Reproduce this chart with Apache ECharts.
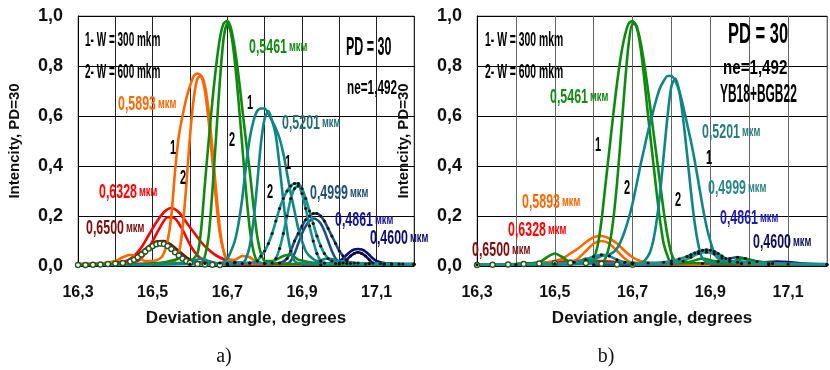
<!DOCTYPE html>
<html><head><meta charset="utf-8">
<script src="https://cdn.jsdelivr.net/npm/echarts@6/dist/echarts.min.js"></script>
<style>html,body{margin:0;padding:0;background:#fff}#c{width:830px;height:370px}</style>
</head><body><div id="c"></div>
<script>
// ---------- tick labels ----------
const xTickLabels = ['16,3', '16,5', '16,7', '16,9', '17,1'];
const yTickLabels = ['0,0', '0,2', '0,4', '0,6', '0,8', '1,0'];
const waveLabels = ['0,6500', '0,6328', '0,5893', '0,5461', '0,5201', '0,4999', '0,4861', '0,4600'];

// ---------- panel a) data: [angle, intensity] ----------
const a6500_1 = [[16.30,0.006],[16.34,0.008],[16.38,0.01],[16.41,0.015],[16.43,0.02],[16.45,0.035],[16.47,0.055],[16.49,0.08],[16.51,0.098],[16.53,0.1],[16.55,0.085],[16.57,0.06],[16.59,0.035],[16.61,0.02],[16.64,0.012],[16.70,0.008],[16.80,0.006],[17.20,0.005]];
const a6500_2 = [[16.30,0.004],[16.32,0.004],[16.34,0.005],[16.36,0.006],[16.38,0.008],[16.40,0.01],[16.42,0.012],[16.44,0.018],[16.45,0.025],[16.46,0.035],[16.47,0.046],[16.48,0.058],[16.49,0.07],[16.50,0.08],[16.51,0.087],[16.52,0.09],[16.53,0.088],[16.54,0.08],[16.55,0.068],[16.56,0.055],[16.57,0.042],[16.58,0.03],[16.59,0.02],[16.60,0.013],[16.62,0.008],[16.64,0.006],[16.66,0.005],[16.68,0.004]];
const a6328_1 = [[16.30,0.008],[16.36,0.01],[16.40,0.013],[16.43,0.02],[16.45,0.04],[16.47,0.075],[16.49,0.125],[16.51,0.175],[16.53,0.215],[16.55,0.232],[16.57,0.215],[16.59,0.175],[16.61,0.135],[16.63,0.095],[16.65,0.065],[16.67,0.042],[16.70,0.022],[16.75,0.012],[16.85,0.008],[17.20,0.006]];
const a6328_2 = [[16.40,0.006],[16.46,0.02],[16.48,0.05],[16.50,0.1],[16.52,0.155],[16.54,0.195],[16.56,0.19],[16.58,0.145],[16.60,0.085],[16.62,0.042],[16.64,0.02],[16.68,0.008],[16.80,0.005]];
const a5893_1 = [[16.30,0.008],[16.36,0.01],[16.40,0.02],[16.42,0.035],[16.44,0.045],[16.46,0.035],[16.48,0.02],[16.50,0.02],[16.52,0.03],[16.53,0.05],[16.54,0.1],[16.55,0.2],[16.56,0.38],[16.57,0.52],[16.58,0.6],[16.59,0.67],[16.60,0.72],[16.61,0.76],[16.62,0.77],[16.63,0.76],[16.64,0.70],[16.65,0.58],[16.66,0.42],[16.67,0.26],[16.68,0.13],[16.69,0.06],[16.70,0.03],[16.72,0.025],[16.74,0.04],[16.76,0.035],[16.78,0.015],[16.85,0.008],[17.20,0.006]];
const a5893_2 = [[16.40,0.006],[16.50,0.01],[16.54,0.015],[16.56,0.02],[16.57,0.05],[16.58,0.15],[16.59,0.32],[16.60,0.52],[16.61,0.67],[16.62,0.75],[16.63,0.76],[16.64,0.72],[16.65,0.62],[16.66,0.47],[16.67,0.3],[16.68,0.15],[16.69,0.06],[16.70,0.02],[16.75,0.01],[16.90,0.006]];
const a5461_1 = [[16.30,0.005],[16.45,0.008],[16.52,0.012],[16.56,0.025],[16.58,0.035],[16.60,0.02],[16.62,0.05],[16.63,0.15],[16.64,0.33],[16.65,0.5],[16.66,0.66],[16.67,0.8],[16.68,0.91],[16.69,0.97],[16.70,0.98],[16.71,0.95],[16.72,0.87],[16.73,0.76],[16.74,0.63],[16.75,0.5],[16.76,0.38],[16.77,0.24],[16.78,0.12],[16.79,0.05],[16.80,0.02],[16.82,0.02],[16.85,0.04],[16.87,0.045],[16.89,0.025],[16.95,0.01],[17.20,0.006]];
const a5461_2 = [[16.40,0.005],[16.55,0.01],[16.60,0.015],[16.63,0.01],[16.64,0.04],[16.65,0.12],[16.66,0.3],[16.67,0.52],[16.68,0.74],[16.69,0.91],[16.70,0.97],[16.71,0.93],[16.72,0.82],[16.73,0.66],[16.74,0.48],[16.75,0.3],[16.76,0.15],[16.77,0.06],[16.78,0.02],[16.80,0.01],[16.90,0.008],[17.10,0.005]];
const a5201_1 = [[16.40,0.005],[16.55,0.008],[16.60,0.015],[16.63,0.03],[16.65,0.02],[16.68,0.01],[16.70,0.03],[16.71,0.06],[16.72,0.1],[16.73,0.17],[16.74,0.27],[16.75,0.4],[16.76,0.51],[16.77,0.58],[16.78,0.62],[16.79,0.63],[16.80,0.63],[16.81,0.61],[16.82,0.58],[16.83,0.55],[16.84,0.51],[16.85,0.45],[16.86,0.37],[16.87,0.29],[16.88,0.22],[16.89,0.15],[16.90,0.1],[16.91,0.06],[16.92,0.04],[16.94,0.02],[16.97,0.03],[17.00,0.02],[17.05,0.01],[17.20,0.008]];
const a5201_2 = [[16.50,0.005],[16.65,0.01],[16.72,0.008],[16.74,0.01],[16.75,0.03],[16.76,0.08],[16.77,0.18],[16.78,0.33],[16.79,0.49],[16.80,0.59],[16.81,0.62],[16.82,0.58],[16.83,0.52],[16.84,0.4],[16.85,0.26],[16.86,0.14],[16.87,0.06],[16.88,0.02],[16.90,0.01],[17.00,0.008],[17.20,0.006]];
const a4999_1 = [[16.70,0.01],[16.72,0.012],[16.74,0.01],[16.76,0.012],[16.78,0.02],[16.79,0.04],[16.80,0.06],[16.81,0.09],[16.82,0.13],[16.83,0.18],[16.84,0.23],[16.85,0.27],[16.86,0.30],[16.87,0.32],[16.88,0.33],[16.89,0.33],[16.90,0.31],[16.91,0.27],[16.92,0.22],[16.93,0.17],[16.94,0.12],[16.95,0.08],[16.96,0.05],[16.97,0.03],[16.98,0.02],[17.00,0.012],[17.02,0.01],[17.05,0.012],[17.08,0.01],[17.11,0.01],[17.14,0.008],[17.17,0.008],[17.20,0.008]];
const a4999_2 = [[16.60,0.008],[16.64,0.01],[16.68,0.012],[16.72,0.015],[16.76,0.012],[16.80,0.01],[16.82,0.012],[16.83,0.03],[16.84,0.07],[16.85,0.13],[16.86,0.2],[16.87,0.27],[16.88,0.31],[16.89,0.32],[16.90,0.29],[16.91,0.23],[16.92,0.16],[16.93,0.1],[16.94,0.05],[16.95,0.02],[16.96,0.012],[16.99,0.01],[17.03,0.01],[17.07,0.008],[17.12,0.008],[17.16,0.008],[17.20,0.008]];
const a4861_1 = [[16.70,0.006],[16.80,0.01],[16.84,0.012],[16.86,0.03],[16.87,0.06],[16.88,0.1],[16.89,0.13],[16.90,0.16],[16.91,0.185],[16.92,0.2],[16.93,0.21],[16.94,0.21],[16.95,0.2],[16.96,0.18],[16.97,0.15],[16.98,0.12],[16.99,0.09],[17.00,0.06],[17.01,0.04],[17.02,0.02],[17.04,0.012],[17.08,0.01],[17.14,0.008],[17.20,0.006]];
const a4861_2 = [[16.80,0.006],[16.86,0.01],[16.87,0.02],[16.88,0.05],[16.89,0.09],[16.90,0.13],[16.91,0.16],[16.92,0.18],[16.93,0.19],[16.94,0.185],[16.95,0.17],[16.96,0.14],[16.97,0.1],[16.98,0.06],[16.99,0.03],[17.00,0.015],[17.03,0.01],[17.10,0.006]];
const a4600_1 = [[16.85,0.005],[16.95,0.008],[16.98,0.012],[17.00,0.02],[17.01,0.03],[17.02,0.045],[17.03,0.058],[17.04,0.066],[17.05,0.068],[17.06,0.066],[17.07,0.058],[17.08,0.045],[17.09,0.03],[17.10,0.02],[17.12,0.012],[17.16,0.008],[17.20,0.006]];
const a4600_2 = [[16.95,0.005],[17.00,0.008],[17.01,0.012],[17.02,0.025],[17.03,0.04],[17.04,0.05],[17.05,0.055],[17.06,0.05],[17.07,0.04],[17.08,0.025],[17.09,0.012],[17.12,0.008],[17.20,0.006]];

// ---------- panel b) data ----------
const b6500_1 = [[16.30,0.006],[16.40,0.008],[16.50,0.012],[16.56,0.015],[16.62,0.012],[16.70,0.008],[16.80,0.006],[17.20,0.005]];
const b6500_2 = [[16.30,0.004],[16.34,0.005],[16.38,0.006],[16.42,0.008],[16.46,0.01],[16.50,0.012],[16.54,0.013],[16.58,0.012],[16.62,0.009],[16.66,0.006],[16.70,0.005]];
const b6328_1 = [[16.30,0.006],[16.40,0.008],[16.46,0.012],[16.50,0.016],[16.54,0.02],[16.58,0.022],[16.62,0.02],[16.66,0.016],[16.70,0.012],[16.78,0.008],[16.90,0.006],[17.20,0.005]];
const b6328_2 = [[16.42,0.006],[16.50,0.01],[16.56,0.014],[16.62,0.012],[16.70,0.008],[16.80,0.005]];
const b5893_1 = [[16.30,0.006],[16.40,0.008],[16.46,0.012],[16.48,0.015],[16.50,0.02],[16.52,0.03],[16.54,0.05],[16.56,0.07],[16.58,0.095],[16.60,0.115],[16.62,0.12],[16.64,0.11],[16.66,0.09],[16.68,0.06],[16.70,0.035],[16.72,0.02],[16.75,0.012],[16.80,0.012],[16.85,0.008],[17.20,0.006]];
const b5893_2 = [[16.40,0.005],[16.50,0.008],[16.54,0.012],[16.56,0.03],[16.58,0.06],[16.60,0.09],[16.62,0.1],[16.64,0.09],[16.66,0.06],[16.68,0.03],[16.70,0.012],[16.75,0.008],[16.90,0.005]];
const b5461_1 = [[16.30,0.005],[16.40,0.008],[16.46,0.015],[16.48,0.035],[16.50,0.05],[16.52,0.035],[16.54,0.015],[16.56,0.01],[16.58,0.02],[16.59,0.015],[16.60,0.03],[16.61,0.08],[16.62,0.18],[16.63,0.32],[16.64,0.46],[16.65,0.60],[16.66,0.73],[16.67,0.84],[16.68,0.92],[16.69,0.97],[16.70,0.98],[16.71,0.96],[16.72,0.90],[16.73,0.81],[16.74,0.70],[16.75,0.58],[16.76,0.46],[16.77,0.34],[16.78,0.22],[16.79,0.12],[16.80,0.05],[16.81,0.02],[16.84,0.015],[16.88,0.03],[16.91,0.02],[16.95,0.015],[16.98,0.03],[17.01,0.02],[17.08,0.01],[17.20,0.006]];
const b5461_2 = [[16.40,0.005],[16.50,0.01],[16.56,0.015],[16.58,0.03],[16.60,0.02],[16.62,0.01],[16.63,0.03],[16.64,0.08],[16.65,0.18],[16.66,0.33],[16.67,0.52],[16.68,0.72],[16.69,0.89],[16.70,0.97],[16.71,0.96],[16.72,0.88],[16.73,0.75],[16.74,0.60],[16.75,0.46],[16.76,0.32],[16.77,0.19],[16.78,0.09],[16.79,0.04],[16.80,0.01],[16.85,0.012],[16.90,0.01],[17.00,0.008],[17.20,0.006]];
const b5201_1 = [[16.40,0.005],[16.55,0.008],[16.58,0.015],[16.60,0.025],[16.62,0.04],[16.64,0.045],[16.66,0.07],[16.68,0.14],[16.70,0.25],[16.72,0.40],[16.73,0.47],[16.74,0.54],[16.75,0.60],[16.76,0.66],[16.77,0.71],[16.78,0.74],[16.79,0.76],[16.80,0.76],[16.81,0.74],[16.82,0.70],[16.83,0.64],[16.84,0.57],[16.85,0.50],[16.86,0.42],[16.87,0.33],[16.88,0.24],[16.89,0.16],[16.90,0.10],[16.91,0.05],[16.92,0.03],[16.94,0.015],[16.97,0.02],[17.00,0.015],[17.10,0.01],[17.20,0.008]];
const b5201_2 = [[16.50,0.005],[16.60,0.01],[16.66,0.012],[16.72,0.01],[16.74,0.04],[16.75,0.08],[16.76,0.16],[16.77,0.28],[16.78,0.44],[16.79,0.60],[16.80,0.72],[16.81,0.75],[16.82,0.70],[16.83,0.59],[16.84,0.45],[16.85,0.30],[16.86,0.17],[16.87,0.08],[16.88,0.03],[16.90,0.012],[16.94,0.02],[16.98,0.012],[17.20,0.006]];
const b4999_1 = [[16.30,0.005],[16.40,0.006],[16.50,0.01],[16.55,0.015],[16.58,0.025],[16.60,0.038],[16.62,0.045],[16.64,0.04],[16.66,0.025],[16.68,0.015],[16.70,0.012],[16.74,0.012],[16.78,0.015],[16.80,0.02],[16.82,0.028],[16.84,0.038],[16.85,0.045],[16.86,0.052],[16.87,0.058],[16.88,0.063],[16.89,0.065],[16.90,0.063],[16.91,0.058],[16.92,0.05],[16.93,0.04],[16.94,0.03],[16.95,0.022],[16.97,0.015],[17.00,0.012],[17.05,0.01],[17.10,0.008],[17.20,0.006]];
const b4999_2 = [[16.70,0.006],[16.80,0.01],[16.83,0.02],[16.85,0.035],[16.87,0.05],[16.89,0.055],[16.91,0.048],[16.93,0.032],[16.95,0.018],[16.98,0.01],[17.05,0.006]];
const b4861_1 = [[16.60,0.005],[16.80,0.008],[16.88,0.01],[16.92,0.018],[16.95,0.03],[16.97,0.035],[16.99,0.03],[17.02,0.018],[17.06,0.01],[17.20,0.006]];
const b4600_1 = [[16.80,0.004],[16.95,0.006],[17.00,0.01],[17.04,0.015],[17.07,0.018],[17.10,0.016],[17.14,0.01],[17.20,0.006]];

// ---------- styling ----------
const FONT = 'Liberation Sans, Arial, Helvetica, sans-serif';
const C = {
  c6500: '#7f0000', c6500b: '#245a1e', c6328: '#ff0000', c5893: '#ff6600',
  c5461: '#0e8a0e', c5201: '#0f8585', c4999: '#179090', c4861: '#1f4f86', c4600: '#0b0b80'
};

function ln(data, color, g, opt) {
  opt = opt || {};
  const s = {
    type: 'line', xAxisIndex: g, yAxisIndex: g, data: data,
    showSymbol: false, symbol: 'none', smooth: 0.25, silent: true,
    lineStyle: { color: color, width: opt.w || 2.6 },
    itemStyle: { color: color }, z: opt.z || 2
  };
  if (opt.dots) {
    s.showSymbol = true; s.symbol = 'circle'; s.symbolSize = 3.2;
    s.itemStyle = { color: '#111' };
  }
  if (opt.rings) {
    s.showSymbol = true; s.symbol = 'circle'; s.symbolSize = 5;
    s.itemStyle = { color: '#fff', borderColor: color, borderWidth: 1.4 };
  }
  return s;
}

const series = [
  ln(a6500_1, C.c6500, 0), ln(a6500_2, C.c6500b, 0, {rings: true, w: 1.6}),
  ln(a6328_1, C.c6328, 0), ln(a6328_2, C.c6328, 0),
  ln(a4600_1, C.c4600, 0), ln(a4600_2, C.c4600, 0, {dots: true}),
  ln(a4861_1, C.c4861, 0, {dots: true}), ln(a4861_2, C.c4861, 0),
  ln(a5893_1, C.c5893, 0), ln(a5893_2, C.c5893, 0),
  ln(a5461_1, C.c5461, 0), ln(a5461_2, C.c5461, 0),
  ln(a5201_1, C.c5201, 0), ln(a5201_2, C.c5201, 0),
  ln(a4999_1, C.c4999, 0, {dots: true}), ln(a4999_2, C.c4999, 0, {dots: true}),

  ln(b6500_1, C.c6500, 1), ln(b6500_2, C.c6500b, 1, {rings: true, w: 1.6}),
  ln(b6328_1, C.c6328, 1), ln(b6328_2, C.c6328, 1),
  ln(b4600_1, C.c4600, 1), ln(b4861_1, C.c4861, 1, {dots: true}),
  ln(b5893_1, C.c5893, 1), ln(b5893_2, C.c5893, 1),
  ln(b5461_1, C.c5461, 1), ln(b5461_2, C.c5461, 1),
  ln(b5201_1, C.c5201, 1), ln(b5201_2, C.c5201, 1),
  ln(b4999_1, C.c4999, 1, {dots: true}), ln(b4999_2, C.c4999, 1, {dots: true})
];

function xAx(g, gridColor) {
  return {
    gridIndex: g, type: 'value', min: 16.3, max: 17.2, interval: 0.1,
    axisLine: { show: true, onZero: false, lineStyle: { color: '#000', width: 1 } },
    axisTick: { show: false },
    splitLine: { show: true, lineStyle: { color: gridColor, width: 1 } },
    axisLabel: {
      margin: 19, fontSize: 16, fontWeight: 'bold', color: '#111', fontFamily: FONT,
      showMinLabel: true, showMaxLabel: true,
      formatter: function (v) {
        const k = Math.round((v - 16.3) * 10);
        return (k % 2 === 0 && k / 2 < xTickLabels.length) ? xTickLabels[k / 2] : '';
      }
    },
    name: 'Deviation angle, degrees', nameLocation: 'middle', nameGap: 44,
    nameTextStyle: { fontSize: 17, fontWeight: 'bold', color: '#111', fontFamily: FONT }
  };
}
function yAx(g, gap) {
  return {
    gridIndex: g, type: 'value', min: 0, max: 1, interval: 0.2,
    axisLine: { show: true, lineStyle: { color: '#000', width: 1 } },
    axisTick: { show: false },
    splitLine: { show: true, lineStyle: { color: '#000', width: 1 } },
    axisLabel: {
      margin: 15, fontSize: 18, fontWeight: 'bold', color: '#111', fontFamily: FONT,
      formatter: function (v) { return yTickLabels[Math.round(v * 5)]; }
    },
    name: 'Intencity, PD=30', nameLocation: 'middle', nameRotate: 90, nameGap: gap,
    nameTextStyle: { fontSize: 15, fontWeight: 'bold', color: '#111', fontFamily: FONT }
  };
}

// ---------- annotation helpers ----------
function wl(x, y, txt, color) {
  return {
    type: 'text', x: x, y: y, scaleX: 0.62, z: 50,
    style: {
      text: '{a|' + txt + '} {b|мкм}', fill: color,
      align: 'left', verticalAlign: 'middle', textAlign: 'left', textVerticalAlign: 'middle',
      rich: {
        a: { fontSize: 20, fontWeight: 'bold', fontFamily: FONT, fill: color, color: color },
        b: { fontSize: 15, fontWeight: 'bold', fontFamily: FONT, fill: color, color: color }
      }
    }
  };
}
function tx(x, y, txt, size, sx, color, align) {
  return {
    type: 'text', x: x, y: y, scaleX: sx, z: 50,
    style: {
      text: txt, fill: color || '#000', font: 'bold ' + size + 'px ' + FONT,
      align: align || 'left', verticalAlign: 'middle',
      textAlign: align || 'left', textVerticalAlign: 'middle'
    }
  };
}
const SERIF = 'Liberation Serif, Times New Roman, serif';

const graphic = [
  // panel a
  tx(85, 40, '1- W = 300 mkm', 20, 0.5), tx(85, 72, '2- W = 600 mkm', 20, 0.5),
  tx(346, 48, 'PD = 30', 26, 0.48), tx(347, 88, 'ne=1,492', 21, 0.56),
  wl(118, 104, waveLabels[2], '#ff6600'),
  wl(249, 47, waveLabels[3], '#128a12'),
  wl(282, 123, waveLabels[4], '#236e6e'),
  wl(99, 192, waveLabels[1], '#ff0000'),
  wl(86, 228, waveLabels[0], '#7a0c0c'),
  wl(310, 193, waveLabels[5], '#1f4f77'),
  wl(335, 220, waveLabels[6], '#1414a0'),
  wl(370, 238, waveLabels[7], '#0c0c6c'),
  tx(173, 148, '1', 20, 0.55, '#000', 'center'), tx(183, 178, '2', 20, 0.55, '#000', 'center'),
  tx(250, 103, '1', 20, 0.55, '#000', 'center'), tx(232, 140, '2', 20, 0.55, '#000', 'center'),
  tx(288, 163, '1', 20, 0.55, '#000', 'center'), tx(270, 192, '2', 20, 0.55, '#000', 'center'),
  // panel b
  tx(485, 40, '1- W = 300 mkm', 20, 0.52), tx(485, 72, '2- W = 600 mkm', 20, 0.52),
  tx(728, 35, 'PD = 30', 30, 0.55), tx(723, 68, 'ne=1,492', 21, 0.72),
  tx(720, 95, 'YB18+BGB22', 26, 0.46),
  wl(550, 97, waveLabels[3], '#128a12'),
  wl(702, 132, waveLabels[4], '#2a7b7b'),
  wl(708, 188, waveLabels[5], '#2a8585'),
  wl(720, 218, waveLabels[6], '#1c1cb4'),
  wl(753, 242, waveLabels[7], '#0c0c60'),
  wl(522, 202, waveLabels[2], '#ff6600'),
  wl(508, 230, waveLabels[1], '#ff0000'),
  wl(472, 250, waveLabels[0], '#7a0c0c'),
  tx(598, 145, '1', 20, 0.55, '#000', 'center'), tx(627, 188, '2', 20, 0.55, '#000', 'center'),
  tx(709, 158, '1', 20, 0.55, '#000', 'center'), tx(678, 200, '2', 20, 0.55, '#000', 'center'),
  // captions
  { type: 'text', x: 224, y: 357, z: 50, style: { text: 'a)', fill: '#111', font: '20px ' + SERIF, align: 'center', verticalAlign: 'middle', textAlign: 'center', textVerticalAlign: 'middle' } },
  { type: 'text', x: 606, y: 357, z: 50, style: { text: 'b)', fill: '#111', font: '20px ' + SERIF, align: 'center', verticalAlign: 'middle', textAlign: 'center', textVerticalAlign: 'middle' } }
];

const chart = echarts.init(document.getElementById('c'), null, { renderer: 'canvas' });
chart.setOption({
  animation: false,
  backgroundColor: '#fff',
  grid: [
    { left: 78, right: 416, top: 16, height: 250, show: true, borderColor: '#888', borderWidth: 1 },
    { left: 477, right: 2, top: 16, height: 250, show: true, borderColor: '#888', borderWidth: 1 }
  ],
  xAxis: [xAx(0, '#222'), xAx(1, '#666')],
  yAxis: [yAx(0, 56), yAx(1, 66)],
  series: series,
  graphic: graphic
});
</script></body></html>
